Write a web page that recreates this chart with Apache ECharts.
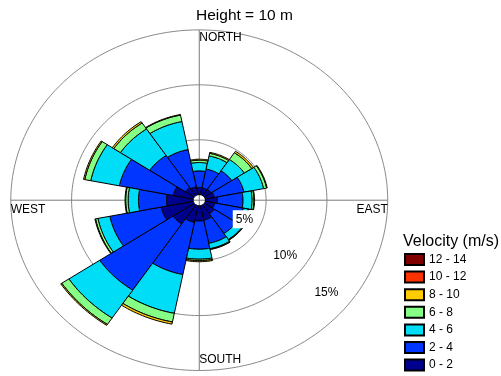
<!DOCTYPE html>
<html>
<head>
<meta charset="utf-8">
<script src="https://cdn.jsdelivr.net/npm/echarts@6/dist/echarts.min.js"></script>
<style>
  html, body { margin: 0; padding: 0; background: #fff; }
  #chart { width: 501px; height: 376px; }
</style>
</head>
<body>
<div id="chart"></div>
<script>
// Wind rose: frequency (%) of wind from each of 16 directions, split by speed class.
const DIRECTIONS = ['N', 'NNE', 'NE', 'ENE', 'E', 'ESE', 'SE', 'SSE',
                    'S', 'SSW', 'SW', 'WSW', 'W', 'WNW', 'NW', 'NNW'];
const SPEED_BINS = ['0 - 2', '2 - 4', '4 - 6', '6 - 8', '8 - 10', '10 - 12', '12 - 14'];

// frequency (%) per direction, one array per speed class (m/s)
const FREQ_0_2   = [0.66, 0.65, 0.70, 0.77, 1.00, 0.80, 1.00, 1.35, 1.40, 1.55, 2.10, 2.70, 2.20, 1.70, 0.90, 0.75];
const FREQ_2_4   = [1.51, 1.74, 2.02, 2.48, 2.10, 2.40, 2.15, 2.15, 2.56, 4.85, 7.25, 4.30, 2.30, 4.50, 3.50, 3.45];
const FREQ_4_6   = [0.76, 1.22, 1.24, 1.65, 0.75, 0.40, 0.65, 0.50, 0.91, 3.60, 3.05, 1.00, 0.85, 2.40, 2.90, 2.60];
const FREQ_6_8   = [0.21, 0.24, 0.74, 0.25, 0.15, 0.05, 0.05, 0.05, 0.13, 0.80, 0.70, 0.20, 0.20, 0.50, 0.65, 0.60];
const FREQ_8_10  = [0.09, 0.09, 0.16, 0.05, 0.05, 0.03, 0.03, 0.03, 0.10, 0.20, 0.10, 0.05, 0.05, 0.10, 0.15, 0.05];
const FREQ_10_12 = [0, 0, 0, 0, 0, 0, 0, 0, 0, 0, 0, 0, 0, 0, 0, 0];
const FREQ_12_14 = [0, 0, 0, 0, 0, 0, 0, 0, 0, 0, 0, 0, 0, 0, 0, 0];

const RING_TICKS = [5, 10, 15];
const RING_LABELS = ['5%', '10%', '15%'];
const COMPASS_LABELS = ['NORTH', 'EAST', 'SOUTH', 'WEST'];
const CHART_TITLE = 'Height = 10 m';
const LEGEND_TITLE = 'Velocity (m/s)';

const BIN_COLORS = ['#00008F', '#0036FF', '#00DEF7', '#85FF85', '#FFCC00', '#FF3300', '#800000'];
const FREQS = [FREQ_0_2, FREQ_2_4, FREQ_4_6, FREQ_6_8, FREQ_8_10, FREQ_10_12, FREQ_12_14];

const FONT = '"Liberation Sans", Arial, sans-serif';
const HOLE = 0.5;              // empty centre, in % units
const OUTER = RING_TICKS[RING_TICKS.length - 1] + HOLE;
const SECTOR = 360 / DIRECTIONS.length;

// polar (% , degrees clockwise from north) -> cartesian data point
function polar(r, deg) {
  const a = deg * Math.PI / 180;
  return [r * Math.sin(a), r * Math.cos(a)];
}

// running totals so each speed class starts where the previous one ended
const stacked = [];
const base = DIRECTIONS.map(() => 0);
FREQS.forEach(function (arr) {
  stacked.push(DIRECTIONS.map(function (d, i) {
    const start = base[i];
    base[i] += arr[i];
    return [i, start, base[i]];
  }));
});

function renderSector(params, api) {
  const dir = api.value(0), r0 = api.value(1) + HOLE, r1 = api.value(2) + HOLE;
  if (r1 - r0 <= 1e-6) return null;
  const a0 = (dir - 0.5) * SECTOR, a1 = (dir + 0.5) * SECTOR;
  const steps = 16, pts = [];
  for (let k = 0; k <= steps; k++) pts.push(api.coord(polar(r1, a0 + (a1 - a0) * k / steps)));
  for (let k = steps; k >= 0; k--) pts.push(api.coord(polar(r0, a0 + (a1 - a0) * k / steps)));
  return {
    type: 'polygon',
    shape: { points: pts },
    style: { fill: api.visual('color'), stroke: '#000', lineWidth: 1 }
  };
}

function ellipsePoints(api, r) {
  const pts = [];
  for (let k = 0; k <= 180; k++) pts.push(api.coord(polar(r, k * 2)));
  return pts;
}

// rings, cross hairs and compass words
function renderFrame(params, api) {
  const children = [];
  RING_TICKS.forEach(function (t) {
    children.push({
      type: 'polyline',
      shape: { points: ellipsePoints(api, t + HOLE) },
      style: { stroke: '#8a8a8a', lineWidth: 1, fill: null }
    });
  });
  const top = api.coord([0, OUTER]), bottom = api.coord([0, -OUTER]);
  const left = api.coord([-OUTER, 0]), right = api.coord([OUTER, 0]);
  children.push({ type: 'line', shape: { x1: top[0], y1: top[1], x2: bottom[0], y2: bottom[1] },
                  style: { stroke: '#7a7a7a', lineWidth: 1 } });
  children.push({ type: 'line', shape: { x1: left[0], y1: left[1], x2: right[0], y2: right[1] },
                  style: { stroke: '#7a7a7a', lineWidth: 1 } });
  const txt = { fill: '#000', fontSize: 12, fontFamily: FONT, textVerticalAlign: 'middle' };
  children.push({ type: 'text', x: top[0], y: top[1] + 7.5,
                  style: Object.assign({ text: COMPASS_LABELS[0], textAlign: 'left' }, txt) });
  children.push({ type: 'text', x: right[0], y: right[1] + 9,
                  style: Object.assign({ text: COMPASS_LABELS[1], textAlign: 'right' }, txt) });
  children.push({ type: 'text', x: bottom[0], y: bottom[1] - 10.5,
                  style: Object.assign({ text: COMPASS_LABELS[2], textAlign: 'left' }, txt) });
  children.push({ type: 'text', x: left[0], y: left[1] + 9,
                  style: Object.assign({ text: COMPASS_LABELS[3], textAlign: 'left' }, txt) });
  return { type: 'group', children: children };
}

// percentage labels, boxed in white so they sit over the bars
const LABEL_SPOT = [[115, 4.1], [125.7, 8.7], [128.7, 13.4]];
function renderRingLabel(params, api) {
  const i = params.dataIndex;
  const p = api.coord(polar(LABEL_SPOT[i][1], LABEL_SPOT[i][0]));
  return {
    type: 'text', x: p[0], y: p[1],
    style: {
      text: RING_LABELS[i], fill: '#000', fontSize: 12, fontFamily: FONT,
      textAlign: 'center', textVerticalAlign: 'middle',
      backgroundColor: '#fff', padding: [3, 3]
    }
  };
}

const series = [{
  type: 'custom', name: 'frame', silent: true, z: 1, clip: false,
  renderItem: renderFrame, data: [[0, 0]]
}];
SPEED_BINS.forEach(function (name, b) {
  series.push({
    type: 'custom', name: name, z: 2, clip: false,
    itemStyle: { color: BIN_COLORS[b], borderColor: '#000', borderWidth: 1 },
    renderItem: renderSector,
    encode: { x: 1, y: 2 },
    data: stacked[b]
  });
});
series.push({
  type: 'custom', name: 'ringLabels', silent: true, z: 5, clip: false,
  renderItem: renderRingLabel, data: RING_TICKS.map(function (t) { return [t, 0]; })
});

const chart = echarts.init(document.getElementById('chart'), null, { renderer: 'canvas' });
chart.setOption({
  animation: false,
  backgroundColor: '#fff',
  title: [
    { text: CHART_TITLE, left: 196, top: 8, padding: 0,
      textStyle: { fontSize: 15.5, fontWeight: 'normal', color: '#000', fontFamily: FONT } },
    { text: LEGEND_TITLE, left: 403, top: 234, padding: 0,
      textStyle: { fontSize: 16, fontWeight: 'normal', color: '#000', fontFamily: FONT } }
  ],
  grid: { left: 4.7, top: 24.4, width: 389.1, height: 353.6, containLabel: false },
  xAxis: { type: 'value', min: -16, max: 16, show: false },
  yAxis: { type: 'value', min: -16, max: 16, show: false },
  legend: {
    orient: 'vertical', left: 404, top: 253, padding: 0, height: 123,
    itemWidth: 19, itemHeight: 11, itemGap: 4.6, icon: 'rect',
    data: SPEED_BINS.slice().reverse(),
    textStyle: { fontSize: 12, color: '#000', fontFamily: FONT },
    selectedMode: false
  },
  tooltip: { show: false },
  series: series
});
</script>
</body>
</html>
